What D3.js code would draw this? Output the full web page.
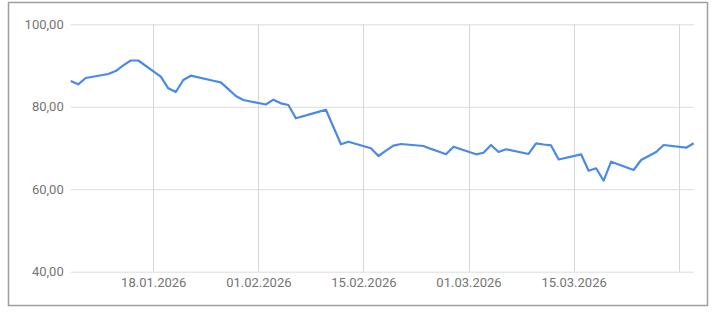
<!DOCTYPE html>
<html lang="de">
<head>
<meta charset="utf-8">
<title>Kursverlauf</title>
<style>
  body { margin: 0; background: #fff; }
  svg { display: block; font-family: Roboto, "Noto Sans", sans-serif; }
</style>
</head>
<body>
<svg width="715" height="312"></svg>

<script src="https://d3js.org/d3.v7.min.js"></script>
<script>
// trading days (dd.mm.yyyy) and closing values
var dates = [
  "07.01.2026", "08.01.2026", "09.01.2026", "12.01.2026", "13.01.2026", "14.01.2026",
  "15.01.2026", "16.01.2026", "19.01.2026", "20.01.2026", "21.01.2026", "22.01.2026",
  "23.01.2026", "26.01.2026", "27.01.2026", "28.01.2026", "29.01.2026", "30.01.2026",
  "02.02.2026", "03.02.2026", "04.02.2026", "05.02.2026", "06.02.2026", "09.02.2026",
  "10.02.2026", "11.02.2026", "12.02.2026", "13.02.2026", "16.02.2026", "17.02.2026",
  "18.02.2026", "19.02.2026", "20.02.2026", "23.02.2026", "24.02.2026", "25.02.2026",
  "26.02.2026", "27.02.2026", "02.03.2026", "03.03.2026", "04.03.2026", "05.03.2026",
  "06.03.2026", "09.03.2026", "10.03.2026", "11.03.2026", "12.03.2026", "13.03.2026",
  "16.03.2026", "17.03.2026", "18.03.2026", "19.03.2026", "20.03.2026", "23.03.2026",
  "24.03.2026", "25.03.2026", "26.03.2026", "27.03.2026", "30.03.2026", "31.03.2026"
];
var values = [
  86.25, 85.45, 86.98, 87.95, 88.67, 90.03,
  91.22, 91.22, 87.29, 84.48, 83.58, 86.49,
  87.54, 86.30, 85.93, 84.27, 82.61, 81.64,
  80.55, 81.72, 80.84, 80.43, 77.20, 78.77,
  79.29, 75.10, 70.90, 71.53, 69.93, 68.06,
  69.35, 70.56, 70.97, 70.49, 69.78, 69.13,
  68.47, 70.32, 68.47, 68.86, 70.73, 69.03,
  69.69, 68.55, 71.14, 70.85, 70.63, 67.21,
  68.47, 64.50, 65.08, 62.07, 66.68, 64.67,
  67.09, 68.06, 69.03, 70.73, 70.07, 71.14
];

// axis ticks
var yTicks = [40, 60, 80, 100];
var xGridDates = ["18.01.2026", "01.02.2026", "15.02.2026", "01.03.2026", "15.03.2026", "29.03.2026"];
var xLabelDates = ["18.01.2026", "01.02.2026", "15.02.2026", "01.03.2026", "15.03.2026"];

var parse = d3.utcParse("%d.%m.%Y"),
    fmtDate = d3.utcFormat("%d.%m.%Y"),
    fmtNum = function(v) { return d3.format(".2f")(v).replace(".", ","); };

var data = dates.map(function(d, i) { return { date: parse(d), value: values[i] }; });

var svg = d3.select("svg");

// frame
svg.append("rect")
    .attr("x", 8.5).attr("y", 2.5)
    .attr("width", 699).attr("height", 303)
    .attr("fill", "none")
    .attr("stroke", "#9e9e9e")
    .attr("stroke-width", 1.5);

var x = d3.scaleUtc()
    .domain(d3.extent(data, function(d) { return d.date; }))
    .range([70.7, 693.7]);

var y = d3.scaleLinear()
    .domain([40, 100])
    .range([271.7, 24.3]);

// horizontal grid + labels
var yAxis = svg.append("g")
    .attr("transform", "translate(70.7,0)")
    .call(d3.axisLeft(y).tickValues(yTicks).tickSize(-623).tickPadding(7).tickFormat(fmtNum));
yAxis.select(".domain").remove();
yAxis.selectAll(".tick line").attr("stroke", "#dcdcdc");
yAxis.selectAll(".tick text")
    .attr("fill", "#757575")
    .style("font-size", "13px")
    .style("font-family", "Roboto, sans-serif");

// vertical grid
svg.append("g").selectAll("line")
    .data(xGridDates.map(parse))
    .enter().append("line")
    .attr("x1", function(d) { return Math.round(x(d)) + 0.5; })
    .attr("x2", function(d) { return Math.round(x(d)) + 0.5; })
    .attr("y1", 24.3)
    .attr("y2", 271.7)
    .attr("stroke", "#d6d6d6");

// date labels
var xAxis = svg.append("g")
    .attr("transform", "translate(0,271.7)")
    .call(d3.axisBottom(x).tickValues(xLabelDates.map(parse)).tickSize(0).tickPadding(6).tickFormat(fmtDate));
xAxis.select(".domain").remove();
xAxis.selectAll(".tick text")
    .attr("fill", "#757575")
    .style("font-size", "13px")
    .style("font-family", "Roboto, sans-serif");

// series
var line = d3.line()
    .x(function(d) { return x(d.date); })
    .y(function(d) { return y(d.value); });

svg.append("path")
    .datum(data)
    .attr("d", line)
    .attr("fill", "none")
    .attr("stroke", "#4a89e8")
    .attr("stroke-width", 2.2)
    .attr("stroke-linejoin", "round");
</script>
</body>
</html>
